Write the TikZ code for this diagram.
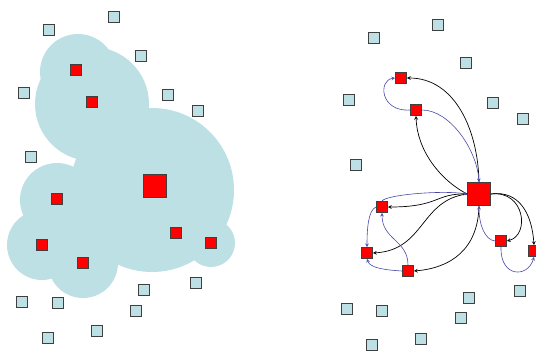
\documentclass[tikz,border=0pt]{standalone}
\usetikzlibrary{arrows}
\definecolor{blob}{RGB}{189,224,228}
\definecolor{nodeblue}{RGB}{72,72,170}
\begin{document}
\begin{tikzpicture}[x=1pt,y=-1pt,>=stealth,
  free/.style={draw=black!75,fill=blob,line width=0.8pt,minimum size=11pt,inner sep=0pt},
  hit/.style={draw=black!75,fill=red,line width=0.8pt,minimum size=11pt,inner sep=0pt},
  hub/.style={draw=black!75,fill=red,line width=0.8pt,minimum size=23pt,inner sep=0pt},
  fwd/.style={draw,line width=0.7pt,->},
  back/.style={draw=nodeblue,line width=0.6pt,->}]
\path[use as bounding box] (0,0) rectangle (536,351);

% left: covered area
\fill[blob] (78,72) circle (38);
\fill[blob] (92,104) circle (57);
\fill[blob] (152,190) circle (82);
\fill[blob] (57,200) circle (37);
\fill[blob] (42,245) circle (35);
\fill[blob] (83,263) circle (35);
\fill[blob] (211,243) circle (24);

\node[free] (c1) at (49,30) {};
\node[free] (c2) at (114,17) {};
\node[free] (c3) at (141,56) {};
\node[free] (c4) at (24,93) {};
\node[free] (c5) at (168,95) {};
\node[free] (c6) at (198,111) {};
\node[free] (c7) at (31,157) {};
\node[free] (c8) at (22,302) {};
\node[free] (c9) at (58,303) {};
\node[free] (c10) at (144,290) {};
\node[free] (c11) at (196,283) {};
\node[free] (c12) at (136,311) {};
\node[free] (c13) at (97,331) {};
\node[free] (c14) at (48,338) {};

\node[hit] (1a) at (76,70) {};
\node[hit] (2a) at (92,102) {};
\node[hub] (3a) at (155,186) {};
\node[hit] (4a) at (57,199) {};
\node[hit] (5a) at (42,245) {};
\node[hit] (6a) at (83,263) {};
\node[hit] (7a) at (176,233) {};
\node[hit] (8a) at (211,243) {};

% right: spanning tree
\node[free] (d1) at (374,38) {};
\node[free] (d2) at (438,25) {};
\node[free] (d3) at (466,63) {};
\node[free] (d4) at (349,100) {};
\node[free] (d5) at (493,103) {};
\node[free] (d6) at (523,119) {};
\node[free] (d7) at (356,165) {};
\node[free] (d8) at (347,309) {};
\node[free] (d9) at (382,311) {};
\node[free] (d10) at (469,298) {};
\node[free] (d11) at (520,291) {};
\node[free] (d12) at (461,318) {};
\node[free] (d13) at (421,339) {};
\node[free] (d14) at (372,345) {};

\node[hit] (1b) at (401,78) {};
\node[hit] (2b) at (416,110) {};
\node[hub] (3b) at (479,194) {};
\node[hit] (4b) at (382,207) {};
\node[hit] (5b) at (367,253) {};
\node[hit] (6b) at (408,271) {};
\node[hit] (7b) at (501,241) {};
\node[hit] (8b) at (534,251) {};

\draw[fwd] (3b.north) .. controls (478,130) and (455,78) .. (1b.east);
\draw[fwd] (3b.west) .. controls (440,180) and (417,150) .. (2b.south);
\draw[fwd] (3b.west) .. controls (435,193) and (440,207) .. (4b.east);
\draw[fwd] (3b.west) .. controls (420,200) and (425,250) .. (5b.east);
\draw[fwd] (3b.south) .. controls (478,250) and (450,268) .. (6b.east);
\draw[fwd] (3b.east) .. controls (525,190) and (530,235) .. (7b.east);
\draw[fwd] (3b.east) .. controls (520,190) and (532,215) .. (8b.north);

\draw[back] (2b.west) .. controls (380,112) and (378,80) .. (1b.west);
\draw[back] (2b.east) .. controls (450,110) and (477,150) .. (3b.north);
\draw[back] (4b.north) .. controls (385,195) and (440,190) .. (3b.west);
\draw[back] (4b.west) .. controls (368,210) and (367,230) .. (5b.north);
\draw[back] (6b.north) .. controls (408,240) and (382,240) .. (4b.south);
\draw[back] (6b.west) .. controls (385,270) and (370,268) .. (5b.south);
\draw[back] (7b.west) .. controls (485,240) and (479,225) .. (3b.south);
\draw[back] (7b.south) .. controls (500,278) and (528,278) .. (8b.south);
\end{tikzpicture}
\end{document}
